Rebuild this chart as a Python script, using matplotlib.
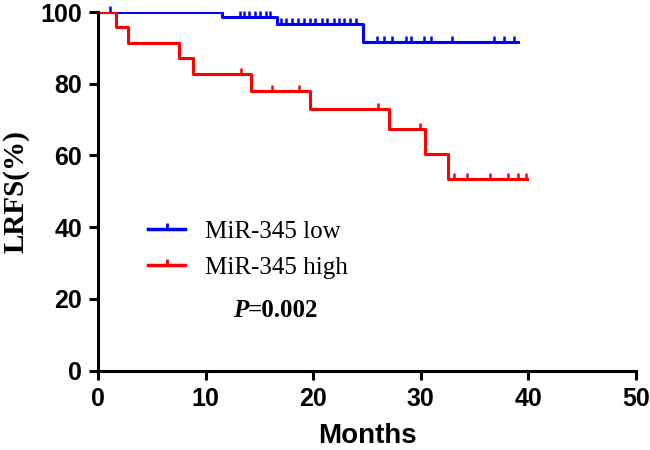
import numpy as np
import matplotlib
matplotlib.use("Agg")
import matplotlib.pyplot as plt
from matplotlib.path import Path
from matplotlib.lines import Line2D

# Kaplan-Meier curves (months, % survival)
blue_event_t = [11.5, 16.6, 24.6]
blue_surv = [98.6, 96.6, 91.7]
blue_end = 39.0
blue_censor_t = [1.1, 13.2, 13.6, 14.0, 14.6, 15.1, 15.6, 16.0,
                 17.0, 17.5, 18.0, 18.6, 19.1, 19.7, 20.2, 20.8, 21.3,
                 21.9, 22.4, 22.9, 23.4, 24.0,
                 25.9, 26.6, 27.3, 28.6, 29.1, 30.3, 30.9, 32.9, 36.8, 37.7, 38.7]

red_event_t = [1.7, 2.8, 7.5, 8.8, 14.2, 19.7, 27.0, 30.4, 32.5]
red_surv = [95.7, 91.5, 87.2, 82.7, 78.0, 72.9, 67.3, 60.5, 53.4]
red_end = 39.9
red_censor_t = [13.3, 16.2, 18.7, 26.0, 29.9, 33.1, 34.3, 36.4, 38.1, 39.0, 39.8]

BLUE = "#0000FF"
RED = "#FF0000"
TICK = Path([(0, 0), (0, 1)])  # upward censor tick


def km_xy(event_t, surv, end):
    x = np.concatenate([[0], event_t, [end]])
    y = np.concatenate([[100], surv, [surv[-1]]])
    return x, y


def censor_y(censor_t, event_t, surv):
    levels = np.concatenate([[100], surv])
    idx = np.searchsorted(event_t, censor_t, side="right")
    return levels[idx]


fig = plt.figure(figsize=(6.5, 4.5), dpi=100)
ax = fig.add_axes([0.1508, 0.1762, 0.8277, 0.7971])

for ev, sv, end, cens, col in [(blue_event_t, blue_surv, blue_end, blue_censor_t, BLUE),
                               (red_event_t, red_surv, red_end, red_censor_t, RED)]:
    x, y = km_xy(ev, sv, end)
    # clipped at the axes like the original, so the 100% run shows half-width
    ax.step(x, y, where="post", color=col, lw=2.2, zorder=3)
    ax.plot(cens, censor_y(cens, ev, sv), ls="none", marker=TICK, ms=9,
            mew=1.8, color=col, clip_on=False, zorder=3)

ax.set_xlim(0, 50)
ax.set_ylim(0, 100)
ax.set_xticks(range(0, 51, 10))
ax.set_yticks(range(0, 101, 20))
for s in ["top", "right"]:
    ax.spines[s].set_visible(False)
for s in ["left", "bottom"]:
    ax.spines[s].set_linewidth(2.2)
    ax.spines[s].set_zorder(4)
ax.tick_params(width=2.2, length=6.5, pad=5)
for lab in ax.get_xticklabels() + ax.get_yticklabels():
    lab.set_fontfamily("Liberation Sans")
    lab.set_fontweight("bold")
    lab.set_fontsize(18)

ax.set_xlabel("Months", fontfamily="Liberation Sans", fontweight="bold",
              fontsize=20, labelpad=9)
ax.set_ylabel("LRFS(%)", fontfamily="Liberation Serif", fontweight="bold",
              fontsize=21, labelpad=8)

handles = [Line2D([0, 0.5, 1], [0, 0, 0], color=c, lw=2.5, marker=TICK, ms=8,
                  mew=2, markevery=[1]) for c in (BLUE, RED)]
ax.legend(handles, ["MiR-345 low", "MiR-345 high"], loc="upper left",
          bbox_to_anchor=(0.074, 0.447), frameon=False, handlelength=1.5,
          handletextpad=0.8, labelspacing=0.55, borderaxespad=0,
          prop={"family": "Liberation Serif", "size": 18})

ax.text(0.279, 0.169, "P", transform=ax.transAxes, fontsize=18,
        fontfamily="Liberation Serif", fontweight="bold", fontstyle="italic",
        ha="right", va="center")
ax.text(0.279, 0.169, "=0.002", transform=ax.transAxes, fontsize=18,
        fontfamily="Liberation Serif", fontweight="bold", ha="left", va="center")

fig.savefig("out.png", dpi=100)
